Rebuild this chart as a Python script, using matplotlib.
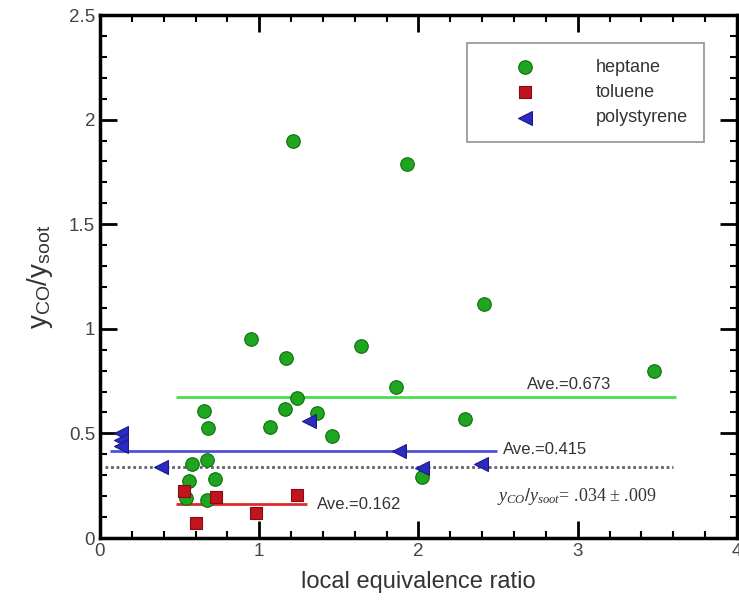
import matplotlib
matplotlib.use('Agg')
import matplotlib.pyplot as plt
from matplotlib.ticker import MultipleLocator

plt.rcParams['font.family'] = ['Liberation Sans', 'DejaVu Sans']
plt.rcParams['mathtext.fontset'] = 'custom'
plt.rcParams['mathtext.rm'] = 'Liberation Sans'
plt.rcParams['mathtext.it'] = 'Liberation Serif:italic'

# local equivalence ratio vs. yCO/ysoot per fuel
heptane_x = [1.21, 1.93, 2.41, 3.48, 1.86, 2.29, 2.02, 0.95, 1.17, 1.64, 1.24,
             1.16, 1.36, 1.07, 1.46, 0.65, 0.68, 0.67, 0.58, 0.56, 0.72, 0.54, 0.67]
heptane_y = [1.90, 1.79, 1.12, 0.80, 0.72, 0.57, 0.29, 0.95, 0.86, 0.92, 0.67,
             0.615, 0.596, 0.53, 0.486, 0.605, 0.524, 0.373, 0.355, 0.274, 0.28, 0.193, 0.183]

toluene_x = [0.53, 0.73, 1.24, 0.98, 0.60]
toluene_y = [0.225, 0.198, 0.204, 0.121, 0.073]

polystyrene_x = [0.13, 0.13, 0.13, 0.38, 1.31, 1.88, 2.02, 2.39]
polystyrene_y = [0.50, 0.47, 0.44, 0.34, 0.56, 0.415, 0.333, 0.352]

# averages and the span each average line covers
ave_heptane, span_heptane = 0.673, (0.48, 3.62)
ave_toluene, span_toluene = 0.162, (0.48, 1.30)
ave_polystyrene, span_polystyrene = 0.415, (0.06, 2.49)
ref_ratio, span_ref = 0.34, (0.03, 3.60)

fig = plt.figure(figsize=(7.39, 6.06), dpi=100)
ax = fig.add_axes([0.1353, 0.1122, 0.862, 0.863])

ax.hlines(ave_heptane, *span_heptane, color='#4cdc4c', lw=2, zorder=2)
ax.hlines(ave_polystyrene, *span_polystyrene, color='#5050d8', lw=2, zorder=2)
ax.hlines(ave_toluene, *span_toluene, color='#dd2a2a', lw=2, zorder=2)
ax.hlines(ref_ratio, *span_ref, color='#606070', lw=2, linestyles=(0, (1, 1)), zorder=2)

ax.scatter(heptane_x, heptane_y, s=95, marker='o', color='#1fa51f',
           edgecolor='#0c6f0c', lw=0.8, label='heptane', zorder=3)
ax.scatter(toluene_x, toluene_y, s=80, marker='s', color='#c0141e',
           edgecolor='#8a0a10', lw=0.8, label='toluene', zorder=3)
ax.scatter(polystyrene_x, polystyrene_y, s=100, marker='<', color='#2b2bbf',
           edgecolor='#1a1a8a', lw=0.8, label='polystyrene', zorder=3)

ax.text(2.68, 0.736, 'Ave.=0.673', fontsize=12, color='#333333', va='center')
ax.text(2.53, 0.425, 'Ave.=0.415', fontsize=12, color='#333333', va='center')
ax.text(1.36, 0.162, 'Ave.=0.162', fontsize=12, color='#333333', va='center')
ax.text(2.49, 0.20, r'$y_{CO}/y_{soot}$= .034 ± .009', fontsize=13,
        color='#333333', va='center', family='Liberation Serif')

ax.set_xlim(0, 4)
ax.set_ylim(0, 2.5)
ax.xaxis.set_major_locator(MultipleLocator(1))
ax.xaxis.set_minor_locator(MultipleLocator(0.2))
ax.yaxis.set_major_locator(MultipleLocator(0.5))
ax.yaxis.set_minor_locator(MultipleLocator(0.1))
ax.set_xticks([0, 1, 2, 3, 4])
ax.set_xticklabels(['0', '1', '2', '3', '4'])
ax.set_yticks([0, 0.5, 1, 1.5, 2, 2.5])
ax.set_yticklabels(['0', '0.5', '1', '1.5', '2', '2.5'])
ax.tick_params(which='both', direction='in', top=True, right=True,
               labelsize=13.5, labelcolor='#444444', width=1.5)
ax.tick_params(which='major', length=12, width=2)
ax.tick_params(which='minor', length=5)
for sp in ax.spines.values():
    sp.set_linewidth(2.5)

ax.set_xlabel('local equivalence ratio', fontsize=17, color='#333333', labelpad=8)
ax.set_ylabel(r'$\mathrm{y}_{\mathrm{CO}}/\mathrm{y}_{\mathrm{soot}}$',
              fontsize=20, color='#333333', labelpad=10)

leg = ax.legend(loc='upper right', bbox_to_anchor=(0.948, 0.947), fontsize=13,
                frameon=True, fancybox=False, edgecolor='#777777',
                borderpad=0.9, handletextpad=1.6, labelspacing=0.45,
                borderaxespad=0, handlelength=4.6)
leg.get_frame().set_linewidth(1.2)
for t in leg.get_texts():
    t.set_color('#333333')

fig.savefig('out.png', dpi=100)
